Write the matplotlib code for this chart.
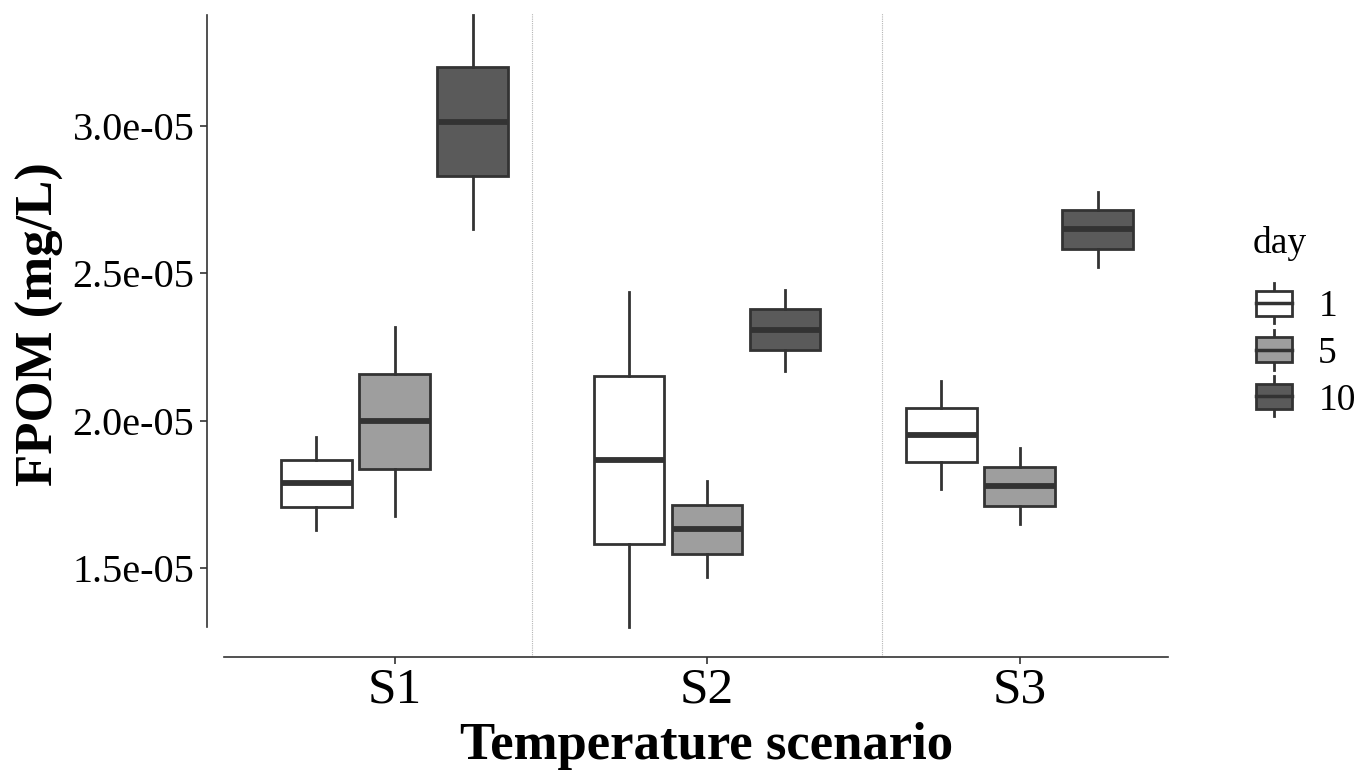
import matplotlib
matplotlib.use("Agg")
import matplotlib.pyplot as plt
from matplotlib.legend_handler import HandlerBase
from matplotlib.patches import Rectangle, Patch
from matplotlib.lines import Line2D
from matplotlib.ticker import FuncFormatter

plt.rcParams['font.family'] = ['Liberation Serif', 'DejaVu Serif']

scenarios = ['S1', 'S2', 'S3']
days = ['1', '5', '10']
fills = ['#ffffff', '#9e9e9e', '#5a5a5a']
edge = '#333333'

# five-number summaries in units of 1e-05 mg/L: low whisker, Q1, median, Q3, high whisker
day1 = [[1.629, 1.708, 1.787, 1.866, 1.945],
        [1.299, 1.580, 1.868, 2.153, 2.438],
        [1.768, 1.859, 1.951, 2.044, 2.135]]
day5 = [[1.677, 1.836, 1.999, 2.158, 2.317],
        [1.468, 1.549, 1.632, 1.713, 1.795],
        [1.648, 1.712, 1.778, 1.843, 1.906]]
day10 = [[2.649, 2.831, 3.015, 3.199, 3.378],
         [2.170, 2.239, 2.309, 2.378, 2.445],
         [2.520, 2.581, 2.649, 2.714, 2.777]]
separators = [1.44, 2.56]
scale = 1e-5

fig = plt.figure(figsize=(13.7, 7.7), dpi=100)
ax = fig.add_axes([207 / 1370, 1 - 657 / 770, 1000 / 1370, 644 / 770])

for xs in separators:
    ax.axvline(xs, color='#b5b5b5', lw=0.8, ls=(0, (1, 1)), zorder=0)

offsets = [-0.25, 0.0, 0.25]
for k, series in enumerate([day1, day5, day10]):
    stats = []
    for vals in series:
        lo, q1, med, q3, hi = [v * scale for v in vals]
        stats.append(dict(whislo=lo, q1=q1, med=med, q3=q3, whishi=hi, fliers=[]))
    pos = [i + 1 + offsets[k] for i in range(len(scenarios))]
    ax.bxp(stats, positions=pos, widths=0.225, patch_artist=True,
           showfliers=False, showcaps=False,
           boxprops=dict(facecolor=fills[k], edgecolor=edge, linewidth=2.0),
           whiskerprops=dict(color=edge, linewidth=2.0),
           medianprops=dict(color=edge, linewidth=4.2, solid_capstyle='butt'))

ax.set_xlim(0.4, 3.6)
ax.set_ylim(1.198 * scale, 3.3836 * scale)
ax.set_xticks([1, 2, 3])
ax.set_xticklabels(scenarios)
ax.set_yticks([1.5 * scale, 2.0 * scale, 2.5 * scale, 3.0 * scale])
ax.yaxis.set_major_formatter(FuncFormatter(lambda v, p: f"{v / scale:.1f}e-05"))

for s in ['top', 'right']:
    ax.spines[s].set_visible(False)
allv = day1 + day5 + day10
ax.spines['left'].set_bounds(min(v[0] for v in allv) * scale, max(v[4] for v in allv) * scale)
ax.spines['bottom'].set_bounds(0.454, 3.476)
for s in ['left', 'bottom']:
    ax.spines[s].set_color(edge)
    ax.spines[s].set_linewidth(1.2)

ax.tick_params(axis='both', length=5, width=1.2, color=edge)
ax.tick_params(axis='x', labelsize=37, pad=2)
ax.tick_params(axis='y', labelsize=29, pad=4)

fig.text(707 / 1370, 1 - 759 / 770, 'Temperature scenario', fontsize=38,
         fontweight='bold', ha='center', va='baseline')
fig.text(40 / 1370, 1 - 324 / 770, 'FPOM (mg/L)', fontsize=38,
         fontweight='bold', ha='center', va='center', rotation=90)


class BoxKey(HandlerBase):
    def create_artists(self, legend, orig_handle, xdescent, ydescent,
                       width, height, fontsize, trans):
        fc = orig_handle.get_facecolor()
        x0, y0 = -xdescent, -ydescent
        cx, cy = x0 + width / 2, y0 + height / 2
        wh = Line2D([cx, cx], [cy - 0.78 * height, cy + 0.78 * height],
                    color=edge, lw=2.0, transform=trans)
        box = Rectangle((x0, cy - 0.48 * height), width, 0.96 * height,
                        facecolor=fc, edgecolor=edge, lw=2.0, transform=trans)
        med = Line2D([x0, x0 + width], [cy, cy], color=edge, lw=2.5,
                     transform=trans)
        return [wh, box, med]


fig.text(1253 / 1370, 1 - 253 / 770, 'day', fontsize=27, ha='left', va='baseline')
handles = [Patch(facecolor=c, edgecolor=edge) for c in fills]
leg = fig.legend(handles, days, loc='upper left',
                 bbox_to_anchor=(1256 / 1370, 1 - 290 / 770),
                 frameon=False, fontsize=27,
                 handler_map={Patch: BoxKey()}, handlelength=0.96,
                 handleheight=0.68, handletextpad=0.7, labelspacing=0.32,
                 borderpad=0, borderaxespad=0)

fig.savefig('out.png', dpi=100)
